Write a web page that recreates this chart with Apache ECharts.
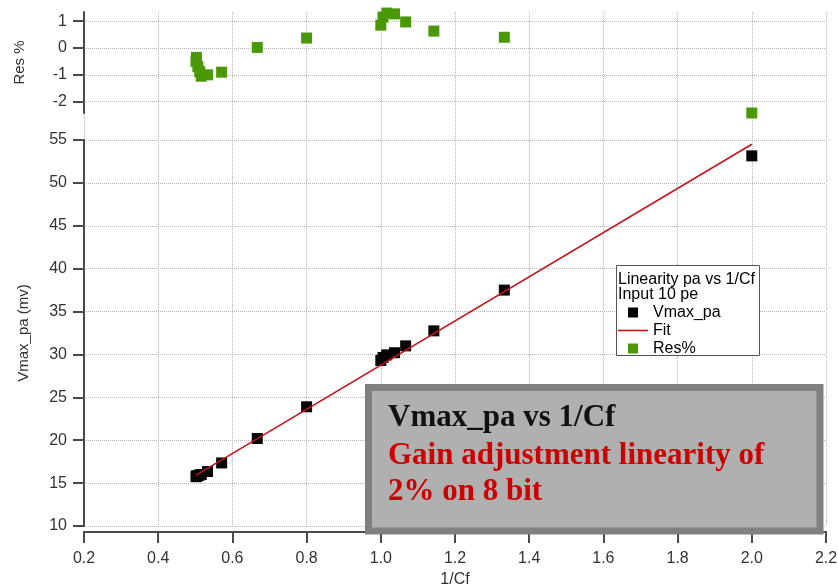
<!DOCTYPE html>
<html>
<head>
<meta charset="utf-8">
<title>Linearity pa vs 1/Cf</title>
<script src="https://cdn.jsdelivr.net/npm/echarts@6/dist/echarts.min.js"></script>
<style>
  html, body { margin: 0; padding: 0; background: #ffffff; }
  #chart { width: 838px; height: 586px; }
</style>
</head>
<body>
<div id="chart"></div>
<script>
// 1/Cf settings that were measured
const cfInv  = [0.502, 0.503, 0.507, 0.512, 0.516, 0.533, 0.571, 0.667, 0.8, 1.0, 1.006, 1.016, 1.037, 1.067, 1.143, 1.333, 2.0];
// peak amplitude of the preamp output (mV)
const vmaxPa = [15.75, 15.85, 15.85, 15.95, 16.0, 16.35, 17.35, 20.2, 23.9, 29.3, 29.65, 29.95, 30.2, 31.0, 32.75, 37.5, 53.15];
// residual of each point with respect to the linear fit (%)
const resPct = [-0.5, -0.35, -0.7, -0.88, -1.05, -1.0, -0.9, 0.02, 0.37, 0.85, 1.15, 1.3, 1.27, 0.97, 0.63, 0.4, -2.42];
// end points of the straight-line fit
const fitX = [0.502, 2.0];
const fitY = [15.93, 54.5];
// axis ticks
const vTicks   = [10, 15, 20, 25, 30, 35, 40, 45, 50, 55];
const resTicks = [-2, -1, 0, 1];
const xRange   = [0.2, 2.2];

const mainPts = cfInv.map((x, i) => [x, vmaxPa[i]]);
const resPts  = cfInv.map((x, i) => [x, resPct[i]]);
const fitPts  = fitX.map((x, i) => [x, fitY[i]]);

const FONT = '"Liberation Sans", Arial, sans-serif';
const SERIF = '"Liberation Serif", "Times New Roman", serif';
const AXIS_COLOR = '#4a4a4a';
const LABEL_COLOR = '#333333';
const GRID_LINE = { show: true, lineStyle: { color: '#b8b8b8', type: [1, 1], width: 1 } };
// legend icons: a centred square and a thin horizontal stroke inside a 30x10 box
const SQUARE_ICON = 'path://M0,0M30,10M10,0h10v10h-10z';
const LINE_ICON = 'path://M0,0M30,10M0,4.2h30v1.6h-30z';

const chart = echarts.init(document.getElementById('chart'), null, { renderer: 'canvas' });

chart.setOption({
  backgroundColor: '#ffffff',
  animation: false,
  textStyle: { fontFamily: FONT },
  grid: [
    // residual panel
    { left: 84, right: 12, top: 12, height: 101, outerBoundsMode: 'none', containLabel: false },
    // main panel
    { left: 84, right: 12, top: 140, height: 386, outerBoundsMode: 'none', containLabel: false },
    // shared vertical grid lines through both panels
    { left: 84, right: 12, top: 12, height: 514, outerBoundsMode: 'none', containLabel: false, z: 0 }
  ],
  xAxis: [
    { gridIndex: 0, type: 'value', min: xRange[0], max: xRange[1], interval: 0.2, show: false },
    {
      gridIndex: 1, type: 'value', min: xRange[0], max: xRange[1], interval: 0.2,
      offset: 6,
      axisLine: { show: true, onZero: false, lineStyle: { color: AXIS_COLOR, width: 2 } },
      axisTick: { show: true, inside: false, length: 11, lineStyle: { color: AXIS_COLOR, width: 2 } },
      axisLabel: { show: true, margin: 19, color: LABEL_COLOR, fontSize: 16, fontFamily: FONT,
                   formatter: v => v.toFixed(1), showMinLabel: true, showMaxLabel: true },
      splitLine: { show: false },
      name: '1/Cf', nameLocation: 'middle', nameGap: 38,
      nameTextStyle: { color: LABEL_COLOR, fontSize: 16, fontFamily: FONT }
    },
    {
      gridIndex: 2, type: 'value', min: xRange[0], max: xRange[1], interval: 0.2,
      axisLine: { show: false }, axisTick: { show: false }, axisLabel: { show: false },
      splitLine: GRID_LINE
    }
  ],
  yAxis: [
    {
      gridIndex: 0, type: 'value', min: -2.42, max: 1.34,
      axisLine: { show: true, onZero: false, lineStyle: { color: AXIS_COLOR, width: 2 } },
      axisTick: { show: true, inside: false, length: 11, customValues: resTicks,
                  lineStyle: { color: AXIS_COLOR, width: 2 } },
      axisLabel: { show: true, margin: 17, color: LABEL_COLOR, fontSize: 16, fontFamily: FONT,
                   customValues: resTicks },
      splitLine: GRID_LINE,
      name: 'Res %', nameLocation: 'middle', nameRotate: 90, nameGap: 57,
      nameTextStyle: { color: LABEL_COLOR, fontSize: 15, fontFamily: FONT }
    },
    {
      gridIndex: 1, type: 'value', min: vTicks[0], max: vTicks[vTicks.length - 1], interval: 5,
      axisLine: { show: true, onZero: false, lineStyle: { color: AXIS_COLOR, width: 2 } },
      axisTick: { show: true, inside: false, length: 11, lineStyle: { color: AXIS_COLOR, width: 2 } },
      axisLabel: { show: true, margin: 17, color: LABEL_COLOR, fontSize: 16, fontFamily: FONT },
      splitLine: GRID_LINE,
      name: 'Vmax_pa (mv)', nameLocation: 'middle', nameRotate: 90, nameGap: 53,
      nameTextStyle: { color: LABEL_COLOR, fontSize: 15, fontFamily: FONT }
    },
    { gridIndex: 2, type: 'value', min: 0, max: 1, show: false }
  ],
  legend: {
    orient: 'vertical',
    left: 618, top: 304,
    padding: 0,
    itemWidth: 30, itemHeight: 10, itemGap: 1,
    z: 6,
    textStyle: { color: '#000000', fontSize: 16, fontFamily: FONT, lineHeight: 17 },
    data: [
      { name: 'Vmax_pa', icon: SQUARE_ICON },
      { name: 'Fit', icon: LINE_ICON },
      { name: 'Res%', icon: SQUARE_ICON }
    ]
  },
  series: [
    {
      name: 'Vmax_pa', type: 'scatter', xAxisIndex: 1, yAxisIndex: 1,
      symbol: 'rect', symbolSize: 11, clip: false, z: 2,
      itemStyle: { color: '#050505', opacity: 1 },
      data: mainPts
    },
    {
      name: 'Fit', type: 'line', xAxisIndex: 1, yAxisIndex: 1,
      showSymbol: false, symbol: 'none', z: 3,
      lineStyle: { color: '#c0151d', width: 1.6 },
      itemStyle: { color: '#c0151d' },
      data: fitPts
    },
    {
      name: 'Res%', type: 'scatter', xAxisIndex: 0, yAxisIndex: 0,
      symbol: 'rect', symbolSize: 11, clip: false, z: 2,
      itemStyle: { color: '#4a9808', opacity: 1 },
      data: resPts
    }
  ],
  graphic: [
    // legend frame with its two heading lines
    {
      type: 'rect', z: 5,
      shape: { x: 616.5, y: 265.5, width: 143, height: 90 },
      style: { fill: '#ffffff', stroke: '#555555', lineWidth: 1 }
    },
    {
      type: 'text', z: 6, x: 618, y: 272,
      style: { text: 'Linearity pa vs 1/Cf', font: '16px ' + FONT, fill: '#000000' }
    },
    {
      type: 'text', z: 6, x: 618, y: 287,
      style: { text: 'Input 10 pe', font: '16px ' + FONT, fill: '#000000' }
    },
    // annotation box
    {
      type: 'rect', z: 20,
      shape: { x: 368.5, y: 387.5, width: 451.5, height: 143.5 },
      style: { fill: '#b0b0b0', stroke: '#808080', lineWidth: 7 }
    },
    {
      type: 'text', z: 21, x: 388, y: 418,
      style: { text: 'Vmax_pa vs 1/Cf', font: 'bold 31px ' + SERIF, fill: '#111111', verticalAlign: 'middle' }
    },
    {
      type: 'text', z: 21, x: 388, y: 456,
      style: { text: 'Gain adjustment linearity of', font: 'bold 31px ' + SERIF, fill: '#cc0000', verticalAlign: 'middle' }
    },
    {
      type: 'text', z: 21, x: 388, y: 492,
      style: { text: '2% on 8 bit', font: 'bold 31px ' + SERIF, fill: '#cc0000', verticalAlign: 'middle' }
    }
  ]
});
</script>
</body>
</html>
